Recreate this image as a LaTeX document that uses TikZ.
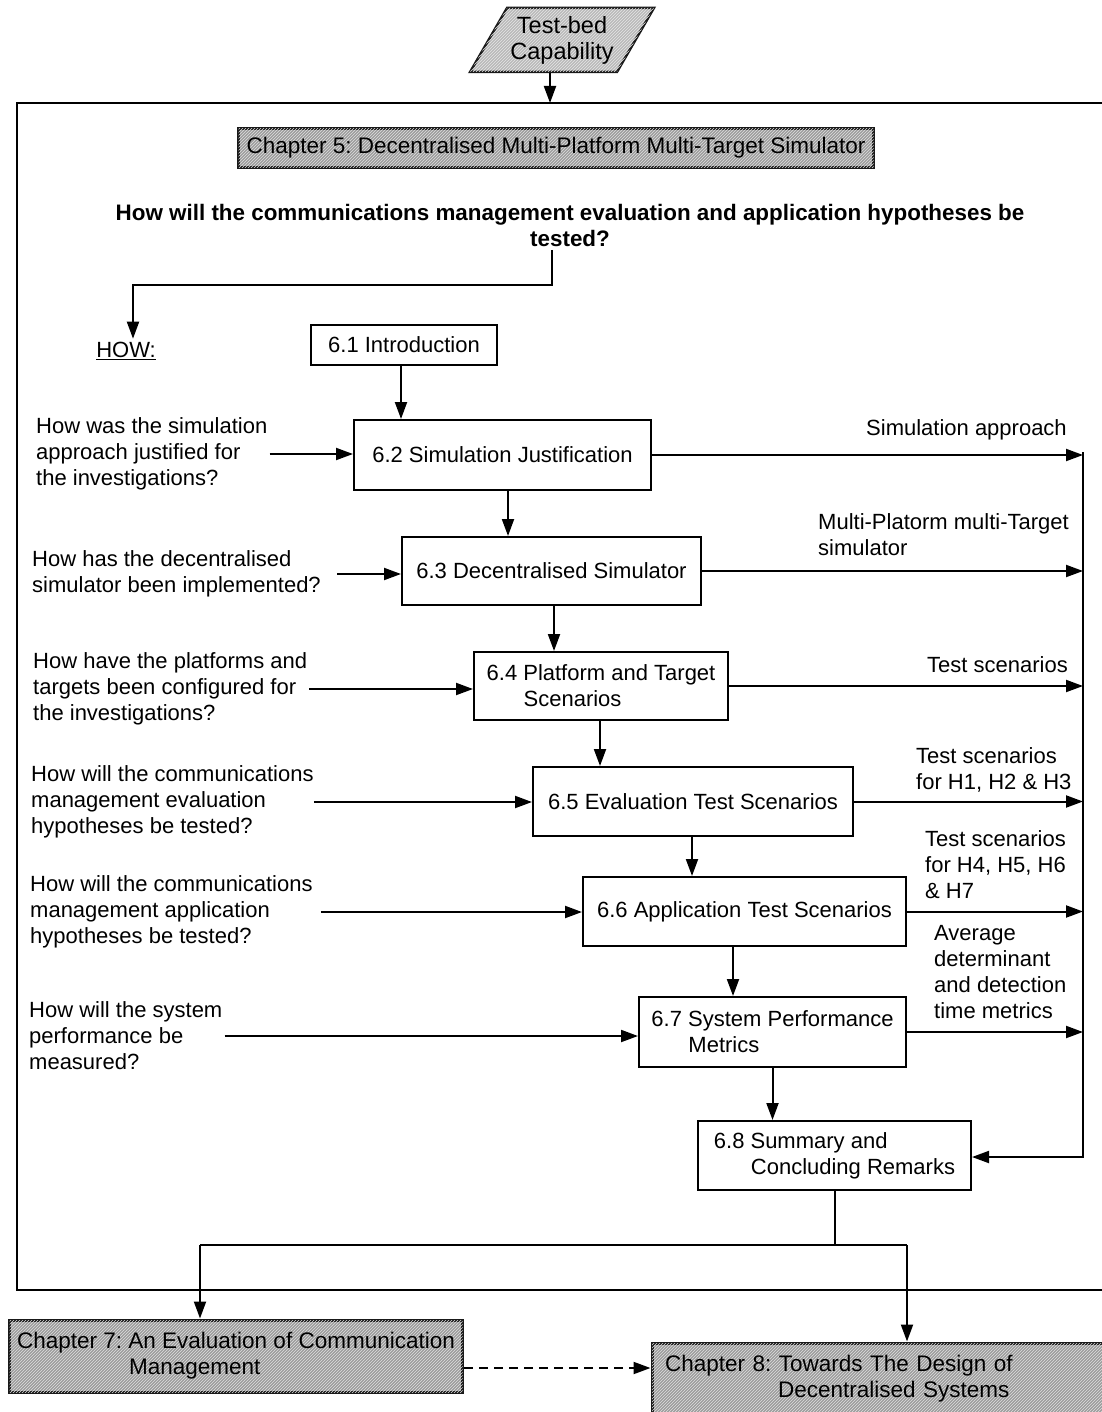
\documentclass[tikz,border=0pt]{standalone}
\usepackage{fontspec}
\setmainfont{Liberation Sans}
\usepackage{tikz}
\usetikzlibrary{arrows.meta,positioning,shapes.geometric,patterns,calc}
\frenchspacing

\tikzset{
  box/.style={draw,line width=2pt,align=left,inner sep=4pt},
  quest/.style={align=left,inner sep=2pt,anchor=west},
  lab/.style={align=left,inner sep=0pt,anchor=west},
  arr/.style={line width=2pt,-{Triangle[length=17pt,width=12pt]}},
  hatchbox/.style={draw=black!90,line width=3pt,fill=gray!78,
    postaction={pattern=north east lines,pattern color=white!75!gray}},
  chapfont/.style={font=\fontsize{22.5}{26}\selectfont},
}

\begin{document}
\begin{tikzpicture}[x=1pt,y=-1pt,font=\fontsize{22}{26}\selectfont]
  \useasboundingbox (0,0) rectangle (1101,1412);
  % outer frame of the chapter
  \draw[line width=2pt] (1110,103) -- (17,103) -- (17,1290) -- (1110,1290);
  \coordinate (ftop) at (550,103);

  \node[trapezium,trapezium left angle=60,trapezium right angle=120,
        draw=black!90,line width=2.5pt,fill=gray!55,
        postaction={pattern=north east lines,pattern color=white!80!gray},
        minimum height=64pt,inner xsep=-7pt,inner ysep=2pt,align=center,
        font=\fontsize{23.5}{26}\selectfont] (tb) at (562,40) {Test-bed\\Capability};
  \draw[arr] (tb.south -| ftop) -- (ftop);

  \node[hatchbox,chapfont,minimum width=635pt,minimum height=39pt,inner sep=0pt] (ch5) at (556,148)
    {Chapter 5: Decentralised Multi-Platform Multi-Target Simulator};

  \node[align=center,font=\fontsize{22.4}{26}\selectfont\bfseries] (qmain) at (570,225)
    {How will the communications management evaluation and application hypotheses be\\tested?};

  \coordinate (turn) at (552,285);
  \node (how) at (126,351) {\underline{HOW:}};
  \draw[arr] (qmain.south -| turn) -- (turn) -| ([xshift=7pt]how.north);

  \node[box,minimum width=186pt,minimum height=40pt] (s1) at (404,345) {6.1 Introduction};
  \node[box,minimum width=297pt,minimum height=70pt] (s2) at (502.5,455) {6.2 Simulation Justification};
  \node[box,minimum width=299pt,minimum height=68pt] (s3) at (551.5,571) {6.3 Decentralised Simulator};
  \node[box,minimum width=254pt,minimum height=68pt] (s4) at (601,686)
    {6.4 Platform and Target\\\hspace{37pt}Scenarios};
  \node[box,minimum width=320pt,minimum height=69pt] (s5) at (693,801.5) {6.5 Evaluation Test Scenarios};
  \node[box,minimum width=323pt,minimum height=69pt] (s6) at (744.5,911.5) {6.6 Application Test Scenarios};
  \node[box,minimum width=267pt,minimum height=70pt] (s7) at (772.5,1032)
    {6.7 System Performance\\\hspace{37pt}Metrics};
  \node[box,minimum width=273pt,minimum height=69pt] (s8) at (834.5,1155.5)
    {6.8 Summary and\\\hspace{37pt}Concluding Remarks};

  \foreach \a/\b/\dx in {s1/s2/-3,s2/s3/5.5,s3/s4/2.5,s4/s5/-1,s5/s6/-1,s6/s7/-11.5,s7/s8/0}
    \draw[arr] ([xshift=\dx pt]\a.south) -- ([xshift=\dx pt]\a.south |- \b.north);

  \node[quest] (q2) at (34,454) {How was the simulation\\approach justified for\\the investigations?};
  \node[quest] (q3) at (30,574) {How has the decentralised\\simulator been implemented?};
  \node[quest] (q4) at (31,689) {How have the platforms and\\targets been configured for\\the investigations?};
  \node[quest] (q5) at (29,802) {How will the communications\\management evaluation\\hypotheses be tested?};
  \node[quest] (q6) at (28,912) {How will the communications\\management application\\hypotheses be tested?};
  \node[quest] (q7) at (27,1036) {How will the system\\performance be\\measured?};

  \foreach \q/\s/\dx in {q2/s2/0,q3/s3/14,q4/s4/0,q5/s5/-2,q6/s6/6,q7/s7/0}
    \draw[arr] ([xshift=\dx pt]\q.east) -- (\q.east -| \s.west);

  \coordinate (railtop) at (1083,452);
  \coordinate (railbot) at (1083,1157);
  \foreach \s in {s2,s3,s4,s5,s6,s7}
    \draw[arr] (\s.east) -- (\s.east -| railtop);
  \draw[arr] (railtop) -- (railbot) -- (s8.east |- railbot);

  \node[lab] (l2) at (866,430) {Simulation approach};
  \node[lab] (l3) at (818,535) {Multi-Platorm multi-Target\\simulator};
  \node[lab] (l4) at (927,665) {Test scenarios};
  \node[lab] (l5) at (916,770) {Test scenarios\\for H1, H2 \& H3};
  \node[lab] (l6) at (925,865) {Test scenarios\\for H4, H5, H6\\\& H7};
  \node[lab] (l7) at (934,972) {Average\\determinant\\and detection\\time metrics};

  \node[hatchbox,chapfont,minimum width=453pt,minimum height=72pt,align=left,inner sep=4pt] (c7) at (236,1356)
    {Chapter 7: An Evaluation of Communication\\\hspace{112pt}Management};
  \node[hatchbox,chapfont,minimum width=458pt,minimum height=72pt,align=left,inner sep=6pt,
        text width=432pt] (c8) at (881,1379)
    {Chapter 8: Towards The Design of\\\hspace{113pt}Decentralised Systems};

  \coordinate (busL) at (200,1245);
  \coordinate (busR) at (907,1245);
  \draw[line width=2pt] (s8.south) -- (s8.south |- busL);
  \draw[line width=2pt] (busL) -- (busR);
  \draw[arr] (busL) -- (busL |- c7.north);
  \draw[arr] (busR) -- (busR |- c8.north);
  \draw[arr,dash pattern=on 9pt off 6pt] ([yshift=-12pt]c7.east) -- ([yshift=-12pt]c7.east -| c8.west);
\end{tikzpicture}
\end{document}
